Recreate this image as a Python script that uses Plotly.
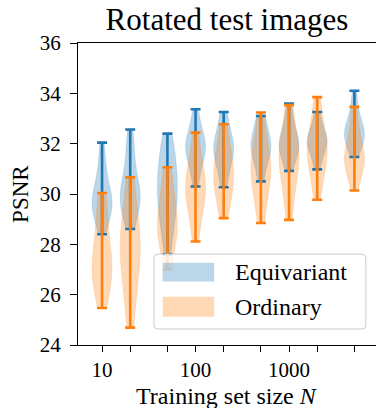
import math
import statistics
import plotly.graph_objects as go

# ---------------- data ----------------
N_SIZES = [10, 20, 50, 100, 200, 500, 1000, 2000, 5000]
TICK_LABELS = ["10", "", "", "100", "", "", "1000", "", ""]

EQUIV_SAMPLES = [
    [28.4, 28.9, 29.2, 29.4, 29.5, 29.6, 29.7, 29.9, 30.1, 30.4, 30.8, 31.3, 32.04],
    [28.61, 29.1, 29.4, 29.6, 29.8, 29.9, 30.0, 30.2, 30.5, 30.9, 31.4, 32.0, 32.56],
    [27.6, 28.4, 28.9, 29.3, 29.6, 29.9, 30.2, 30.5, 30.8, 31.1, 31.5, 31.9, 32.4],
    [30.3, 30.8, 31.2, 31.5, 31.7, 31.8, 31.9, 32.0, 32.2, 32.5, 32.8, 33.37],
    [30.27, 30.8, 31.2, 31.5, 31.7, 31.8, 31.9, 32.1, 32.4, 32.8, 33.26],
    [30.5, 31.0, 31.4, 31.6, 31.8, 31.9, 32.0, 32.2, 32.5, 32.8, 33.1],
    [30.92, 31.3, 31.6, 31.8, 31.9, 32.0, 32.1, 32.3, 32.6, 33.0, 33.59],
    [30.98, 31.4, 31.7, 31.9, 32.0, 32.1, 32.2, 32.3, 32.5, 32.8, 33.26],
    [31.47, 31.8, 32.0, 32.2, 32.3, 32.4, 32.5, 32.6, 32.8, 33.1, 33.5, 34.1],
]

ORDINARY_SAMPLES = [
    [25.47, 26.0, 26.4, 26.7, 26.9, 27.1, 27.3, 27.6, 28.0, 28.5, 29.0, 29.5, 30.04],
    [24.69, 25.5, 26.2, 26.8, 27.2, 27.5, 27.8, 28.1, 28.4, 28.8, 29.3, 29.9, 30.66],
    [27.0, 27.6, 28.0, 28.3, 28.5, 28.7, 28.9, 29.1, 29.4, 29.8, 30.2, 30.6, 31.06],
    [28.11, 28.8, 29.3, 29.7, 30.0, 30.2, 30.3, 30.5, 30.8, 31.2, 31.7, 32.44],
    [29.04, 29.6, 30.0, 30.3, 30.6, 30.8, 31.0, 31.3, 31.7, 32.2, 32.77],
    [28.85, 29.5, 30.0, 30.4, 30.7, 30.9, 31.1, 31.3, 31.6, 32.0, 32.5, 33.24],
    [28.97, 29.7, 30.3, 30.8, 31.1, 31.3, 31.5, 31.7, 32.0, 32.4, 32.9, 33.53],
    [29.77, 30.4, 30.9, 31.2, 31.5, 31.7, 31.8, 32.0, 32.3, 32.7, 33.2, 33.85],
    [30.14, 30.6, 30.9, 31.1, 31.3, 31.4, 31.5, 31.6, 31.8, 32.1, 32.5, 32.9, 33.46],
]

SERIES = [
    ("Equivariant", EQUIV_SAMPLES, "#1f77b4", "rgba(31,119,180,0.3)"),
    ("Ordinary", ORDINARY_SAMPLES, "#ff7f0e", "rgba(255,127,14,0.3)"),
]

FONT = "Liberation Serif"
POS = [math.log10(n) for n in N_SIZES]

fig = go.Figure()

for name, samples, color, fill in SERIES:
    for p, s in zip(POS, samples):
        # Scott's rule, as matplotlib's violinplot uses
        bw = statistics.stdev(s) * len(s) ** (-0.2)
        fig.add_trace(go.Violin(
            x=[p] * len(s), y=s, name=name, width=0.214, spanmode="hard",
            scalemode="width", points=False, fillcolor=fill, bandwidth=bw,
            line=dict(color=fill, width=0.5), hoverinfo="skip",
            box_visible=False, meanline_visible=False, showlegend=False,
        ))

for name, samples, color, fill in SERIES:
    lo = [min(s) for s in samples]
    hi = [max(s) for s in samples]
    fig.add_trace(go.Scatter(
        x=POS, y=[(a + b) / 2 for a, b in zip(lo, hi)], mode="markers",
        marker=dict(size=1, opacity=0), showlegend=False,
        error_y=dict(type="data", symmetric=True,
                     array=[(b - a) / 2 for a, b in zip(lo, hi)],
                     color=color, thickness=2.6, width=5),
    ))

# ---------------- legend (drawn in paper coordinates) ----------------
x0, x1, y0, y1 = 0.255, 0.966, 0.053, 0.301
rx, ry = 0.013, 0.013
path = (f"M{x0+rx},{y0} L{x1-rx},{y0} Q{x1},{y0} {x1},{y0+ry} "
        f"L{x1},{y1-ry} Q{x1},{y1} {x1-rx},{y1} L{x0+rx},{y1} "
        f"Q{x0},{y1} {x0},{y1-ry} L{x0},{y0+ry} Q{x0},{y0} {x0+rx},{y0} Z")
shapes = [dict(type="path", path=path, xref="paper", yref="paper",
               fillcolor="rgba(255,255,255,0.8)",
               line=dict(color="#cccccc", width=1), layer="above")]
patch_rows = [(0.210, 0.2725), (0.0937, 0.160)]
annotations = []
for (name, _, _, fill), (py0, py1) in zip(SERIES, patch_rows):
    shapes.append(dict(type="rect", xref="paper", yref="paper",
                       x0=0.284, x1=0.457, y0=py0, y1=py1,
                       fillcolor=fill, line=dict(width=0), layer="above"))
    annotations.append(dict(text=name, xref="paper", yref="paper",
                            x=0.52, y=(py0 + py1) / 2, xanchor="left",
                            yanchor="middle", showarrow=False,
                            font=dict(family=FONT, size=24, color="black")))

# axis titles
annotations.append(dict(text="Training set size <i>N</i>", xref="paper",
                        yref="paper", x=0.5, y=-0.169, xanchor="center",
                        yanchor="middle", showarrow=False,
                        font=dict(family=FONT, size=24, color="black")))
annotations.append(dict(text="PSNR", xref="paper", yref="paper",
                        x=-0.195, y=0.5, xanchor="center", yanchor="middle",
                        textangle=-90, showarrow=False,
                        font=dict(family=FONT, size=23, color="black")))

fig.update_layout(
    width=376, height=408,
    margin=dict(l=78, r=0, t=43, b=63, autoexpand=False),
    plot_bgcolor="white", paper_bgcolor="white",
    violinmode="overlay", violingap=0, violingroupgap=0,
    showlegend=False,
    font=dict(family=FONT, color="black"),
    title=dict(text="Rotated test images", x=0.5, xref="paper",
               y=1 - 19 / 408, yref="container", xanchor="center",
               yanchor="middle", font=dict(family=FONT, size=31, color="black")),
    shapes=shapes, annotations=annotations,
)

fig.update_xaxes(
    range=[math.log10(5.53), 3.93], tickmode="array", tickvals=POS,
    ticktext=TICK_LABELS, ticks="outside", ticklen=6, tickwidth=1.2,
    tickcolor="black", showline=True, linecolor="black", linewidth=1.2,
    mirror=True, showgrid=False, zeroline=False, automargin=False,
    tickfont=dict(family=FONT, size=21, color="black"),
)
fig.update_yaxes(
    range=[24, 36], tickvals=[24, 26, 28, 30, 32, 34, 36],
    ticks="outside", ticklen=7, tickwidth=1.2, tickcolor="black",
    showline=True, linecolor="black", linewidth=1.2, mirror=False,
    showgrid=False, zeroline=False, automargin=False, ticklabelstandoff=5,
    tickfont=dict(family=FONT, size=21, color="black"),
)

fig.write_html(
    "out.html",
    config={"displayModeBar": False},
    post_script="document.body.style.margin='0';document.body.style.overflow='hidden';",
)
